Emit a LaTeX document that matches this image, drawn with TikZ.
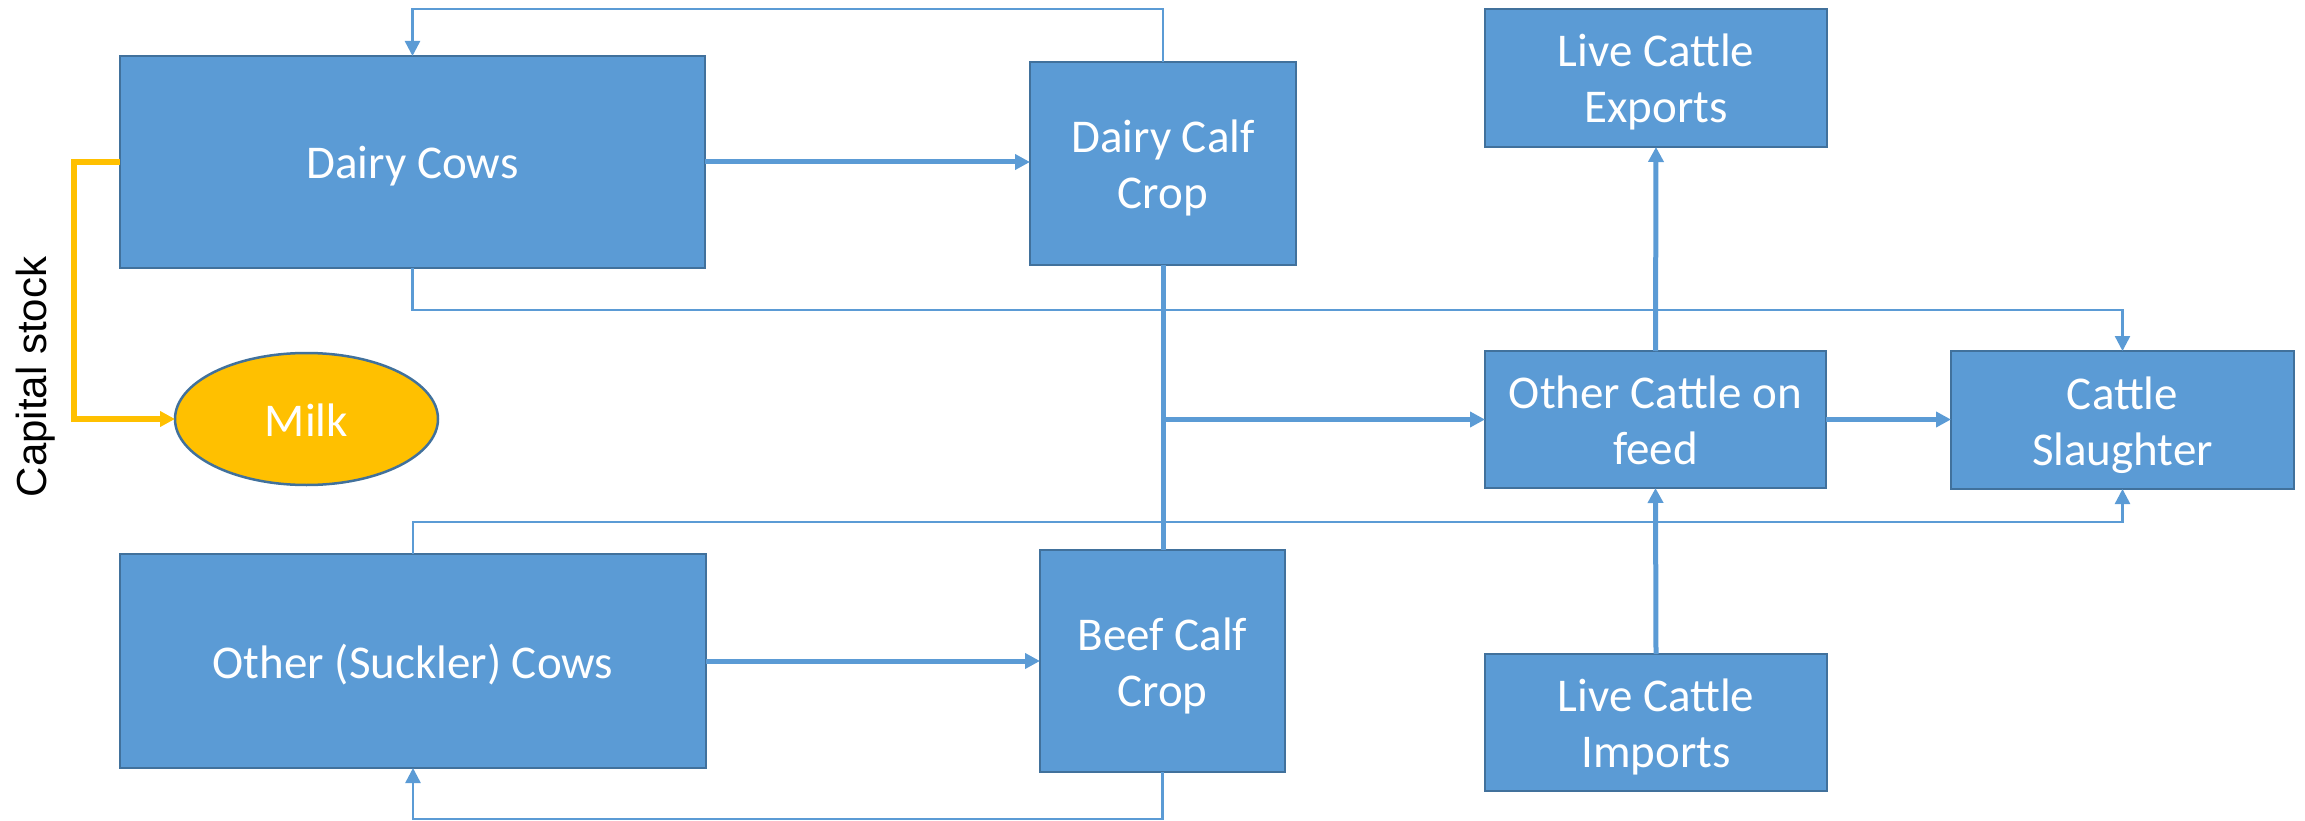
\documentclass[tikz,border=0pt]{standalone}
\usepackage{fontspec}
\setmainfont{Carlito}
\newfontfamily\capfont{Liberation Sans}
\usetikzlibrary{arrows.meta,shapes.geometric}
\definecolor{boxfill}{HTML}{5B9BD5}
\definecolor{boxline}{HTML}{41719C}
\definecolor{milkfill}{HTML}{FFC000}
\newcommand\capline[1]{\rule{0pt}{34pt}\smash{#1}}
\tikzset{
  flowbox/.style={rectangle, fill=boxfill, draw=boxline, line width=2.5pt,
    inner sep=0pt, outer sep=0pt, align=center, text=white,
    font=\fontsize{47}{56}\selectfont},
  milkbox/.style={ellipse, fill=milkfill, draw=boxline, line width=2.5pt,
    inner sep=0pt, outer sep=0pt, text=white, font=\fontsize{47}{56}\selectfont},
  thickflow/.style={draw=boxfill, line width=5pt, -{Triangle[length=15pt,width=15pt]}},
  thickplain/.style={draw=boxfill, line width=5pt},
  thinflow/.style={draw=boxfill, line width=2.5pt, -{Triangle[length=15pt,width=15pt]}},
  orangeflow/.style={draw=milkfill, line width=6pt, -{Triangle[length=15pt,width=15pt]}},
}
\begin{document}
\begin{tikzpicture}[x=1pt,y=-1pt]
\useasboundingbox (0,0) rectangle (2305,821);
% nodes
\node[flowbox, minimum width=585pt, minimum height=212pt] (dairy) at (412.5,162) {\capline{Dairy Cows}};
\node[flowbox, minimum width=266pt, minimum height=203pt] (dcalf) at (1163,163.5) {\capline{Dairy Calf}\\\capline{Crop}};
\node[flowbox, minimum width=342pt, minimum height=138pt] (exports) at (1656,78) {\capline{Live Cattle}\\\capline{Exports}};
\node[flowbox, minimum width=341pt, minimum height=137pt] (feed) at (1655.5,419.5) {\capline{Other Cattle on}\\\capline{feed}};
\node[flowbox, minimum width=343pt, minimum height=138pt] (slaughter) at (2122.5,420) {\capline{Cattle}\\\capline{Slaughter}};
\node[flowbox, minimum width=586pt, minimum height=214pt] (suckler) at (413,661) {\capline{Other (Suckler) Cows}};
\node[flowbox, minimum width=245pt, minimum height=222pt] (bcalf) at (1162.5,661) {\capline{Beef Calf}\\\capline{Crop}};
\node[flowbox, minimum width=342pt, minimum height=137pt] (imports) at (1656,722.5) {\capline{Live Cattle}\\\capline{Imports}};
\node[milkbox, minimum width=263pt, minimum height=132pt] (milk) at (306.5,419) {\capline{Milk}};
\node[rotate=90, font=\capfont\fontsize{42}{50}\selectfont, inner sep=0pt] (captext) at (36,377) {Capital stock};
% coordinates
\coordinate (topy) at (0,9);
\coordinate (boty) at (0,819);
\coordinate (midy1) at (0,310);
\coordinate (midy2) at (0,522);
\coordinate (cscorner) at (73.5,162);
% connectors
\draw[thickflow] (dairy.east) -- (dairy.east -| dcalf.west);
\draw[thickflow] (suckler.east) -- (suckler.east -| bcalf.west);
\draw[thinflow] (dcalf.north) -- (dcalf.north |- topy) -| (dairy.north);
\draw[thinflow] (bcalf.south) -- (bcalf.south |- boty) -| (suckler.south);
\draw[thinflow] (dairy.south) -- (dairy.south |- midy1) -| (slaughter.north);
\draw[thinflow] (suckler.north) -- (suckler.north |- midy2) -| (slaughter.south);
\draw[thickplain] (dcalf.south) -- (dcalf.south |- bcalf.north);
\coordinate (junction) at (dcalf.south |- feed.west);
\draw[thickflow] (junction) -- (feed.west);
\draw[thickflow] (feed.east) -- (feed.east -| slaughter.west);
\draw[thickflow] (feed.north) -- (exports.south);
\draw[thickflow] (imports.north) -- (feed.south);
\draw[orangeflow] (dairy.west) -- (cscorner) |- (milk.west);
\end{tikzpicture}
\end{document}
